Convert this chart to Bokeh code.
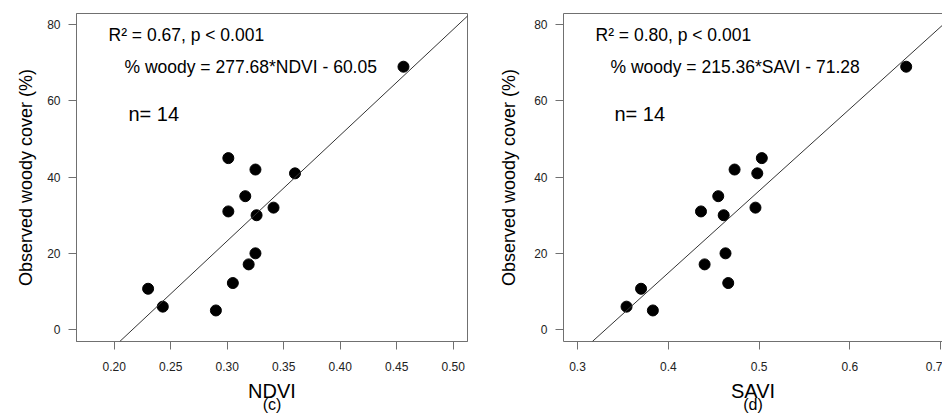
from bokeh.plotting import figure
from bokeh.layouts import row
from bokeh.models import (Range1d, FixedTicker, Slope, Label, LinearAxis,
                          ColumnDataSource, CustomJSTickFormatter)
from bokeh.embed import file_html
from bokeh.resources import INLINE

# ---------------- data ----------------
woody = [10.7, 6.0, 5.0, 12.2, 17.1, 20.0, 31.0, 30.0, 32.0, 45.0, 42.0, 41.0, 35.0, 69.0]
ndvi = [0.230, 0.243, 0.290, 0.305, 0.319, 0.325, 0.301, 0.326, 0.341, 0.301, 0.325, 0.360, 0.316, 0.456]
savi = [0.370, 0.354, 0.383, 0.466, 0.440, 0.463, 0.436, 0.461, 0.496, 0.503, 0.473, 0.498, 0.455, 0.662]

ndvi_fit = (277.68, -60.05)
savi_fit = (215.36, -71.28)

ndvi_ticks = [0.20, 0.25, 0.30, 0.35, 0.40, 0.45, 0.50]
ndvi_tick_labels = ["0.20", "0.25", "0.30", "0.35", "0.40", "0.45", "0.50"]
savi_ticks = [0.3, 0.4, 0.5, 0.6, 0.7]
savi_tick_labels = ["0.3", "0.4", "0.5", "0.6", "0.7"]
y_ticks = [0, 20, 40, 60, 80]

texts_c = ["R\u00b2 = 0.67, p < 0.001", "% woody = 277.68*NDVI - 60.05", "n= 14", "NDVI", "(c)"]
texts_d = ["R\u00b2 = 0.80, p < 0.001", "% woody = 215.36*SAVI - 71.28", "n= 14", "SAVI", "(d)"]
y_title = "Observed woody cover (%)"

FONT = "Liberation Sans"
GREY = "#707070"
Y_RANGE = (-3.15, 82.97)


def make_panel(xs, fit, xr, ticks, tick_labels, texts, width, border_left, border_right,
               x_map, ytitle_standoff, text_x, show_outline=True):
    p = figure(width=width, height=416, output_backend="svg", toolbar_location=None,
               x_range=Range1d(*xr), y_range=Range1d(*Y_RANGE),
               min_border_left=border_left, min_border_right=border_right,
               min_border_top=13, min_border_bottom=75)
    p.background_fill_color = "white"
    p.border_fill_color = "white"
    p.grid.visible = False

    xax = p.below[0]
    yax = p.left[0]
    for ax, tk in ((xax, ticks), (yax, y_ticks)):
        ax.ticker = FixedTicker(ticks=tk)
        ax.axis_line_color = GREY
        ax.major_tick_line_color = GREY
        ax.major_tick_out = 8
        ax.major_tick_in = 0
        ax.minor_tick_line_color = None
        ax.major_label_text_font = FONT
        ax.major_label_text_font_size = "12px"
        ax.major_label_text_color = "#222222"
        ax.major_label_standoff = 8
        ax.axis_label_text_font = FONT
        ax.axis_label_text_font_style = "normal"
        ax.axis_label_text_color = "black"
    xax.major_label_standoff = 12
    ndig = len(tick_labels[0]) - 2
    fmt_code = "const L = %s; return L[tick.toFixed(%d)];" % (
        "{" + ",".join('"%s":"%s"' % (f"{t:.{ndig}f}", l)
                       for t, l in zip(ticks, tick_labels)) + "}", ndig)
    xax.formatter = CustomJSTickFormatter(code=fmt_code)

    # axis titles
    yax.axis_label = y_title
    yax.axis_label_text_font_size = "18px"
    yax.axis_label_standoff = ytitle_standoff
    xax.axis_label = texts[3]
    xax.axis_label_text_font_size = "20px"
    xax.axis_label_standoff = 6

    sub = LinearAxis(ticker=FixedTicker(ticks=[]), axis_label=texts[4],
                     axis_label_text_font=FONT, axis_label_text_font_size="16px",
                     axis_label_text_font_style="normal", axis_label_text_color="black",
                     axis_label_standoff=-9, axis_line_color=None,
                     major_tick_line_color=None, minor_tick_line_color=None,
                     major_tick_out=0, major_tick_in=0, major_label_standoff=0,
                     major_label_text_font_size="0px")
    p.add_layout(sub, "below")

    if show_outline:
        p.outline_line_color = GREY
    else:
        p.outline_line_color = None
        top = LinearAxis(ticker=FixedTicker(ticks=[]), major_label_text_font_size="0px",
                         axis_line_color=GREY, major_tick_line_color=None,
                         minor_tick_line_color=None, major_tick_out=0, major_tick_in=0,
                         major_label_standoff=0)
        p.add_layout(top, "above")

    slope = Slope(gradient=fit[0], y_intercept=fit[1], line_color="#333333", line_width=1)
    p.add_layout(slope)

    src = ColumnDataSource(dict(x=xs, y=woody))
    p.scatter("x", "y", source=src, size=11, fill_color="black", line_color="black")

    def ydat(py):
        return (329.0 - py) / 3.81

    def lab(txt, px, py, size):
        p.add_layout(Label(x=x_map(px), y=ydat(py), text=txt, text_font=FONT,
                           text_font_size=size, text_align="left", text_baseline="middle",
                           text_color="black"))

    lab(texts[0], text_x[0], 34.5, "17.5px")
    lab(texts[1], text_x[1], 66.5, "17.5px")
    lab(texts[2], text_x[2], 113, "20px")
    return p


# ---- left panel (c) ----
def xmap_c(px):
    return 0.20 + (px - 113.7) / 1130.0


p1 = make_panel(ndvi, ndvi_fit, (xmap_c(76), xmap_c(467)), ndvi_ticks,
                ndvi_tick_labels, texts_c, 470, 76, 3, xmap_c, 8, (108, 124, 128))


# ---- right panel (d) ----
def xmap_d(px):
    return 0.3 + (px - 577.0) / 908.0


p2 = make_panel(savi, savi_fit, (xmap_d(563), xmap_d(942)), savi_ticks,
                savi_tick_labels, texts_d, 472, 93, 0, xmap_d, 12, (595, 610, 614),
                show_outline=False)

layout = row(p1, p2, spacing=0)
open("out.html", "w").write(file_html(layout, INLINE))
